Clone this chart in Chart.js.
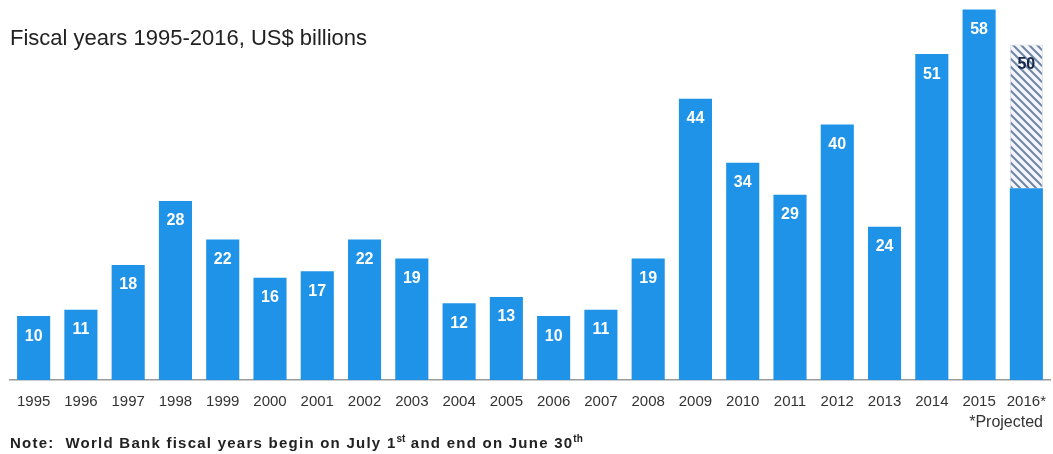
<!DOCTYPE html>
<html>
<head>
<meta charset="utf-8">
<script src="https://cdn.jsdelivr.net/npm/chart.js@4/dist/chart.umd.min.js"></script>
<style>
  html, body { margin: 0; padding: 0; background: #fff; }
  body { width: 1053px; height: 454px; position: relative; overflow: hidden; font-family: "Liberation Sans", Arial, sans-serif; }
  #wrap { position: absolute; left: 0; top: 0; width: 1053px; height: 454px; }
  .subtitle { position: absolute; left: 10px; top: 25px; font-size: 22px; color: #222; }
  .projected { position: absolute; right: 10px; top: 413px; font-size: 16px; color: #333; }
  .note { position: absolute; left: 10px; top: 433px; font-size: 15px; font-weight: bold; color: #222; letter-spacing: 1.25px; }
  .note sup { font-size: 10px; letter-spacing: 0; }
</style>
</head>
<body>
<div id="wrap"><canvas id="chart" width="1053" height="454"></canvas></div>
<div class="subtitle">Fiscal years 1995-2016, US$ billions</div>
<div class="projected">*Projected</div>
<div class="note">Note:&nbsp; World Bank fiscal years begin on July 1<sup>st</sup> and end on June 30<sup>th</sup></div>
<script>
const years = ['1995', '1996', '1997', '1998', '1999', '2000', '2001', '2002', '2003', '2004', '2005',
  '2006', '2007', '2008', '2009', '2010', '2011', '2012', '2013', '2014', '2015', '2016*'];
// solid part of each bar
const actual = [10, 11, 18, 28, 22, 16, 17, 22, 19, 12, 13, 10, 11, 19, 44, 34, 29, 40, 24, 51, 58, 30];
// hatched (projected) part on top of 2016
const projected = [null, null, null, null, null, null, null, null, null, null, null,
  null, null, null, null, null, null, null, null, null, null, 22.5];
// numbers printed on the bars
const shownValues = [10, 11, 18, 28, 22, 16, 17, 22, 19, 12, 13, 10, 11, 19, 44, 34, 29, 40, 24, 51, 58, 50];

const blue = '#1e93e8';

function hatch() {
  const c = document.createElement('canvas');
  c.width = 8; c.height = 8;
  const g = c.getContext('2d');
  g.fillStyle = '#f4f6f9';
  g.fillRect(0, 0, 8, 8);
  g.strokeStyle = '#6f86a6';
  g.lineWidth = 2;
  g.beginPath();
  g.moveTo(-2, -2); g.lineTo(10, 10);
  g.moveTo(-2, 6); g.lineTo(2, 10);
  g.moveTo(6, -2); g.lineTo(10, 2);
  g.stroke();
  return g.createPattern(c, 'repeat');
}

const barLabels = {
  id: 'barLabels',
  afterDatasetsDraw(chart) {
    const ctx = chart.ctx;
    ctx.save();
    ctx.font = 'bold 16px "Liberation Sans", Arial, sans-serif';
    ctx.textAlign = 'center';
    ctx.textBaseline = 'middle';
    shownValues.forEach((v, i) => {
      const isProj = projected[i] != null;
      const bar = chart.getDatasetMeta(isProj ? 1 : 0).data[i];
      ctx.fillStyle = isProj ? '#14284a' : '#ffffff';
      ctx.fillText(String(v), bar.x, bar.y + 20);
    });
    ctx.restore();
  }
};

new Chart(document.getElementById('chart').getContext('2d'), {
  type: 'bar',
  data: {
    labels: years,
    datasets: [{
      label: 'Commitments',
      data: actual,
      backgroundColor: blue,
      barPercentage: 0.7,
      categoryPercentage: 1.0
    }, {
      label: 'Projected',
      data: projected,
      backgroundColor: hatch(),
      borderColor: '#d6dde6',
      borderWidth: 1,
      barPercentage: 0.7,
      categoryPercentage: 1.0
    }]
  },
  options: {
    responsive: false,
    animation: false,
    layout: { padding: { left: 10, right: 3, top: 3, bottom: 38 } },
    plugins: { legend: { display: false }, tooltip: { enabled: false } },
    scales: {
      x: {
        stacked: true,
        grid: { display: false },
        border: { display: true, color: '#9a9a9a', width: 1.5 },
        ticks: { color: '#333', font: { size: 15, family: '"Liberation Sans", Arial, sans-serif' }, padding: 5, maxRotation: 0 }
      },
      y: {
        stacked: true,
        display: false,
        min: 0,
        max: 59
      }
    }
  },
  plugins: [barLabels]
});
</script>
</body>
</html>
